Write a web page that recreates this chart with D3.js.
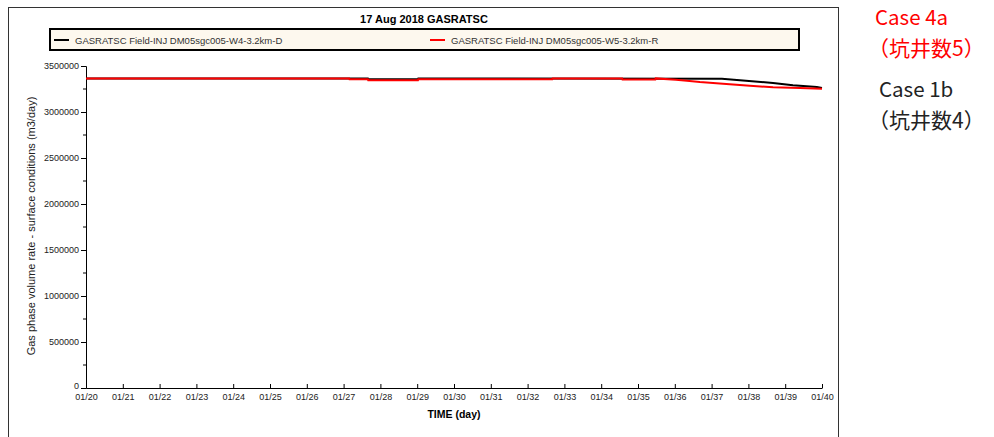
<!DOCTYPE html>
<html>
<head>
<meta charset="utf-8">
<script src="https://cdn.jsdelivr.net/npm/d3@7"></script>
<style>
  body { margin: 0; background: #fff; }
  svg { display: block; }
</style>
</head>
<body>
<svg id="chart" width="994" height="437"></svg>
<script>
// days after 01/20 and gas rate (m3/day)
var blackDays = [0, 7.66, 7.67, 9.02, 9.03, 17.28, 17.77, 18.67, 19.21, 19.86, 20];
var blackRate = [3365000, 3365000, 3355000, 3355000, 3365000, 3362000, 3345000, 3315000, 3290000, 3272000, 3262000];

var redDays = [0, 7.15, 7.16, 7.66, 7.67, 9.02, 9.03, 12.67, 12.68, 14.57, 14.58, 15.47, 15.48, 16.03, 16.33, 16.68, 17.31, 18.04, 18.67, 19.40, 20];
var redRate = [3365000, 3365000, 3356000, 3356000, 3345000, 3345000, 3356000, 3356000, 3365000, 3365000, 3352000, 3352000, 3365000, 3351000, 3340000, 3326000, 3308000, 3286000, 3269000, 3261000, 3253000];

var yTicks = [0, 500000, 1000000, 1500000, 2000000, 2500000, 3000000, 3500000];
var xTickLabels = ['01/20','01/21','01/22','01/23','01/24','01/25','01/26','01/27','01/28','01/29','01/30',
                   '01/31','01/32','01/33','01/34','01/35','01/36','01/37','01/38','01/39','01/40'];

var seriesNames = ['GASRATSC Field-INJ DM05sgc005-W4-3.2km-D', 'GASRATSC Field-INJ DM05sgc005-W5-3.2km-R'];

var svg = d3.select('#chart');
var font = 'Liberation Sans, Arial, sans-serif';

// outer frame
svg.append('rect')
  .attr('x', 8.5).attr('y', 7.5)
  .attr('width', 830).attr('height', 450)
  .attr('fill', 'none').attr('stroke', '#333').attr('stroke-width', 1);

svg.append('text')
  .attr('x', 424).attr('y', 23)
  .attr('text-anchor', 'middle')
  .attr('font-family', font).attr('font-size', 11).attr('font-weight', 'bold')
  .text('17 Aug 2018 GASRATSC');

// legend
svg.append('rect')
  .attr('x', 50).attr('y', 29).attr('width', 749).attr('height', 21)
  .attr('fill', '#fdf8ee').attr('stroke', '#000').attr('stroke-width', 2);

var legend = [
  { x: 54, color: '#000', name: seriesNames[0] },
  { x: 430, color: '#ff0000', name: seriesNames[1] }
];
legend.forEach(function(l){
  svg.append('line')
    .attr('x1', l.x).attr('x2', l.x + 15).attr('y1', 40).attr('y2', 40)
    .attr('stroke', l.color).attr('stroke-width', 2);
  svg.append('text')
    .attr('x', l.x + 21).attr('y', 43.5)
    .attr('font-family', font).attr('font-size', 9.5).attr('fill', '#333')
    .text(l.name);
});

var x = d3.scaleLinear().domain([0, 20]).range([86, 822]);
var y = d3.scaleLinear().domain([0, 3500000]).range([388, 66]);

// y axis
var yAxis = svg.append('g')
  .attr('transform', 'translate(86,0)')
  .call(d3.axisLeft(y).tickValues(yTicks).tickSize(5).tickPadding(2).tickFormat(d3.format('d')));
yAxis.selectAll('text').attr('font-family', font).attr('font-size', 9).attr('fill', '#222');
yAxis.select('.domain').attr('stroke', '#000');
// lift the "0" a bit so it clears the first date label
yAxis.selectAll('.tick').filter(function(d){ return d === 0; }).select('text').attr('dy', '0.1em');

var minor = d3.range(250000, 3500000, 500000);
svg.append('g').selectAll('line')
  .data(minor).enter().append('line')
  .attr('x1', 83).attr('x2', 86)
  .attr('y1', function(d){ return y(d); }).attr('y2', function(d){ return y(d); })
  .attr('stroke', '#000');

// x axis
var xAxis = svg.append('g')
  .attr('transform', 'translate(0,388)')
  .call(d3.axisBottom(x).tickValues(d3.range(0, 21)).tickSizeInner(-4).tickSizeOuter(0).tickPadding(6)
    .tickFormat(function(d){ return xTickLabels[d]; }));
xAxis.selectAll('text').attr('font-family', font).attr('font-size', 9).attr('fill', '#222');
xAxis.select('.domain').attr('stroke', '#000');

svg.append('text')
  .attr('x', 454).attr('y', 418)
  .attr('text-anchor', 'middle')
  .attr('font-family', font).attr('font-size', 10.5).attr('font-weight', 'bold')
  .text('TIME (day)');

svg.append('text')
  .attr('transform', 'translate(35,226) rotate(-90)')
  .attr('text-anchor', 'middle')
  .attr('font-family', font).attr('font-size', 11).attr('fill', '#222')
  .text('Gas phase volume rate - surface conditions (m3/day)');

// lines
var line = d3.line()
  .x(function(d){ return x(d[0]); })
  .y(function(d){ return y(d[1]); });

svg.append('path')
  .datum(d3.zip(blackDays, blackRate))
  .attr('d', line).attr('fill', 'none').attr('stroke', '#000').attr('stroke-width', 2);
svg.append('path')
  .datum(d3.zip(redDays, redRate))
  .attr('d', line).attr('fill', 'none').attr('stroke', '#ff0000').attr('stroke-width', 2);

// case annotations
var cjk = 'Noto Sans CJK JP, sans-serif';
var notes = [
  { x: 875, y: 25, t: 'Case 4a', c: '#ff0000', s: 20.5 },
  { x: 868, y: 56, t: '（坑井数5）', c: '#ff0000', s: 21 },
  { x: 879, y: 97, t: 'Case 1b', c: '#222', s: 20.5 },
  { x: 868, y: 128, t: '（坑井数4）', c: '#222', s: 21 }
];
svg.selectAll('text.note').data(notes).enter().append('text')
  .attr('class', 'note')
  .attr('x', function(d){ return d.x; }).attr('y', function(d){ return d.y; })
  .attr('font-family', cjk).attr('font-size', function(d){ return d.s; }).attr('fill', function(d){ return d.c; })
  .text(function(d){ return d.t; });
</script>
</body>
</html>
